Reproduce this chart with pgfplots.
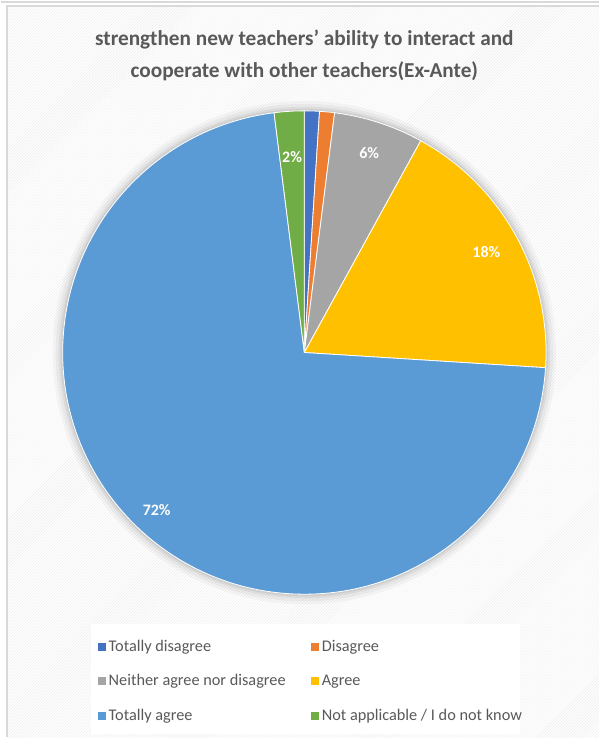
\documentclass[border=0pt]{standalone}
\usepackage{pgfplots}
\pgfplotsset{compat=1.18}
\usepackage{pgfplotstable}
\usepackage{fontspec}
\setmainfont{Carlito}
\usetikzlibrary{patterns}
\definecolor{cTD}{HTML}{4472C4}
\definecolor{cDis}{HTML}{ED7D31}
\definecolor{cNeu}{HTML}{A5A5A5}
\definecolor{cAgr}{HTML}{FFC000}
\definecolor{cTA}{HTML}{5B9BD5}
\definecolor{cNA}{HTML}{70AD47}
\definecolor{txt}{HTML}{595959}
\definecolor{frame}{HTML}{D9D9D9}

\pgfplotstableread{
value col r show
1 cTD 208 0
1 cDis 208 0
6 cNeu 210 1
18 cAgr 208 1
72 cTA 216 1
2 cNA 196 1
}\piedata

\begin{document}
\begin{tikzpicture}
\begin{axis}[
  x=1pt, y=1pt, xmin=0, xmax=599, ymin=0, ymax=738,
  hide axis, clip=false,
  title={strengthen new teachers’ ability to interact and\\cooperate with other teachers(Ex-Ante)},
  title style={at={(axis cs:304,702)}, anchor=north, align=center, text=txt,
    font=\bfseries\fontsize{21.3}{32}\selectfont, inner sep=0pt},
  legend columns=2,
  legend image code/.code={\fill[#1] (0pt,-3.5pt) rectangle (7pt,3.5pt);},
  legend style={at={(axis cs:97,97)}, anchor=north west, draw=none, fill=none,
    font=\fontsize{16.3}{18}\selectfont, text=txt, row sep=21.5pt, inner sep=0pt,
    nodes={inner xsep=3.5pt, inner ysep=0pt}},
  legend cell align=left,
]
% background
\fill[white] (axis cs:0,0) rectangle (axis cs:599,738);
\fill[pattern=north east lines, pattern color=black!7] (axis cs:6,0) rectangle (axis cs:599,732);
\fill[white] (axis cs:90,3) rectangle (axis cs:520,113);
\draw[frame, line width=2pt] (axis cs:6,0) -- (axis cs:6,732) -- (axis cs:599,732);
\draw[frame, line width=1.5pt] (axis cs:0,736) -- (axis cs:599,736);
% shadow
\fill[black, opacity=0.03] (axis cs:304,385) circle[radius=252pt];
\fill[black, opacity=0.04] (axis cs:304,385) circle[radius=249pt];
\fill[black, opacity=0.05] (axis cs:304,385) circle[radius=246pt];
\fill[black, opacity=0.06] (axis cs:304,385) circle[radius=244pt];
% slices
\pgfmathsetmacro\cum{0}
\pgfplotsforeachungrouped \i in {0,...,5}{%
  \pgfplotstablegetelem{\i}{value}\of\piedata \let\v\pgfplotsretval
  \pgfplotstablegetelem{\i}{col}\of\piedata \let\c\pgfplotsretval
  \pgfplotstablegetelem{\i}{r}\of\piedata \let\rr\pgfplotsretval
  \pgfplotstablegetelem{\i}{show}\of\piedata \let\s\pgfplotsretval
  \pgfmathsetmacro\a{90-3.6*\cum}%
  \pgfmathsetmacro\b{90-3.6*(\cum+\v)}%
  \pgfmathsetmacro\m{(\a+\b)/2}%
  \pgfmathsetmacro\lx{304+\rr*cos(\m)}%
  \pgfmathsetmacro\ly{385+\rr*sin(\m)}%
  \edef\temp{\noexpand\fill[\c, draw=white, line width=0.8pt, line join=round] (axis cs:304,385) -- ++(\a:242pt) arc[start angle=\a, end angle=\b, radius=242pt] -- cycle;}%
  \temp
  \ifnum\s=1
    \edef\temp{\noexpand\node[white, font=\noexpand\bfseries\noexpand\fontsize{16}{18}\noexpand\selectfont] at (axis cs:\lx,\ly) {\v\noexpand\%};}%
    \temp
  \fi
  \pgfmathsetmacro\cum{\cum+\v}%
}
\addlegendimage{cTD}\addlegendentry{\makebox[199pt][l]{Totally disagree}}
\addlegendimage{cDis}\addlegendentry{Disagree}
\addlegendimage{cNeu}\addlegendentry{\makebox[199pt][l]{Neither agree nor disagree}}
\addlegendimage{cAgr}\addlegendentry{Agree}
\addlegendimage{cTA}\addlegendentry{\makebox[199pt][l]{Totally agree}}
\addlegendimage{cNA}\addlegendentry{Not applicable / I do not know}
\end{axis}
\end{tikzpicture}
\end{document}
